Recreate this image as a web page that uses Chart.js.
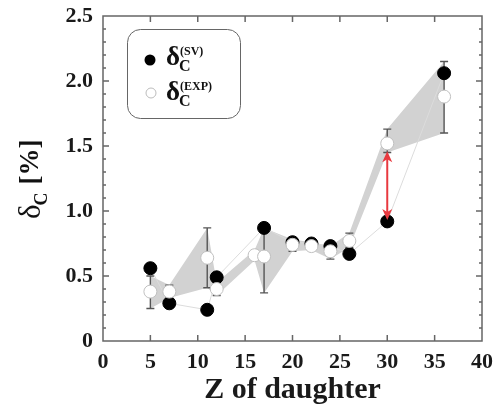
<!DOCTYPE html>
<html>
<head>
<meta charset="utf-8">
<script src="https://cdn.jsdelivr.net/npm/chart.js@4"></script>
<style>
    html, body { margin: 0; padding: 0; background: #fff; }
    #wrap { width: 494px; height: 408px; position: relative; }
</style>
</head>
<body>
<div id="wrap"><canvas id="chart"></canvas></div>
<script>
    // delta_C (SV) values
    const zSV = [5, 7, 11, 12, 17, 20, 22, 24, 26, 30, 36];
    const deltaSV = [0.56, 0.29, 0.24, 0.49, 0.87, 0.76, 0.75, 0.73, 0.67, 0.92, 2.06];

    // delta_C (EXP) values with their error range
    const zEXP = [5, 7, 11, 12, 16, 17, 20, 22, 24, 26, 30, 36];
    const deltaEXP = [0.38, 0.38, 0.64, 0.40, 0.66, 0.65, 0.74, 0.73, 0.69, 0.77, 1.52, 1.88];
    const expHigh = [0.50, 0.43, 0.87, 0.45, 0.70, 0.87, 0.78, 0.76, 0.73, 0.83, 1.63, 2.15];
    const expLow = [0.25, 0.33, 0.41, 0.35, 0.62, 0.37, 0.69, 0.70, 0.63, 0.72, 1.45, 1.60];

    // red arrow at Z = 30
    const arrowZ = 30;
    const arrowFrom = 1.46;
    const arrowTo = 0.93;

    const xTicks = [0, 5, 10, 15, 20, 25, 30, 35, 40];
    const yTicks = [0, 0.5, 1.0, 1.5, 2.0, 2.5];

    const SERIF = '"Liberation Serif", "DejaVu Serif", serif';
    const FRAME = '#666666';
    const toPts = (xs, ys) => xs.map((x, i) => ({ x: x, y: ys[i] }));

    // error bars drawn above the grey band, below the markers
    const errorBarPlugin = {
        id: 'errorBars',
        afterDatasetDraw(chart, args) {
            if (args.index !== 2) return;
            const { ctx, scales: { x, y } } = chart;
            ctx.save();
            ctx.strokeStyle = '#555';
            ctx.lineWidth = 1.4;
            ctx.beginPath();
            zEXP.forEach((z, i) => {
                if (z === 16) return;
                const px = x.getPixelForValue(z);
                const hi = y.getPixelForValue(expHigh[i]);
                const lo = y.getPixelForValue(expLow[i]);
                ctx.moveTo(px, hi); ctx.lineTo(px, lo);
                ctx.moveTo(px - 4, hi); ctx.lineTo(px + 4, hi);
                ctx.moveTo(px - 4, lo); ctx.lineTo(px + 4, lo);
            });
            ctx.stroke();
            ctx.restore();
        }
    };

    function drawDeltaC(ctx, x, y, sizes, sup) {
        // δ, subscript C, optional superscript
        ctx.font = sizes[3] ? 'bold ' + sizes[0] + 'px ' + SERIF : sizes[0] + 'px ' + SERIF;
        ctx.fillText('δ', x, y);
        const w = ctx.measureText('δ').width;
        ctx.font = 'bold ' + sizes[1] + 'px ' + SERIF;
        ctx.fillText('C', x + w - 1, y + sizes[1] * 0.4);
        let end = x + w - 1 + ctx.measureText('C').width;
        if (sup) {
            ctx.font = 'bold ' + sizes[2] + 'px ' + SERIF;
            ctx.fillText(sup, x + w, y - sizes[0] * 0.36);
            end = Math.max(end, x + w + ctx.measureText(sup).width);
        }
        return end;
    }

    const annotPlugin = {
        id: 'annot',
        afterDraw(chart) {
            const ctx = chart.ctx;
            const xs = chart.scales.x;
            const ys = chart.scales.y;
            ctx.save();

            // red double arrow
            const ax = xs.getPixelForValue(arrowZ);
            const y1 = ys.getPixelForValue(arrowFrom);
            const y2 = ys.getPixelForValue(arrowTo);
            ctx.strokeStyle = '#e8393f';
            ctx.fillStyle = '#e8393f';
            ctx.lineWidth = 2;
            ctx.beginPath();
            ctx.moveTo(ax, y1 + 6); ctx.lineTo(ax, y2 - 6);
            ctx.stroke();
            [[y1, 1], [y2, -1]].forEach(([ty, d]) => {
                ctx.beginPath();
                ctx.moveTo(ax, ty);
                ctx.lineTo(ax - 5, ty + d * 11);
                ctx.lineTo(ax, ty + d * 8);
                ctx.lineTo(ax + 5, ty + d * 11);
                ctx.closePath();
                ctx.fill();
            });

            // frame and inward ticks on all four sides
            const L = xs.getPixelForValue(0);
            const R = xs.getPixelForValue(40);
            const T = ys.getPixelForValue(2.5);
            const B = ys.getPixelForValue(0);
            ctx.strokeStyle = FRAME;
            ctx.lineWidth = 1.5;
            ctx.beginPath();
            ctx.rect(L, T, R - L, B - T);
            xTicks.forEach(v => {
                const px = xs.getPixelForValue(v);
                ctx.moveTo(px, B); ctx.lineTo(px, B - 6);
                ctx.moveTo(px, T); ctx.lineTo(px, T + 6);
            });
            for (let i = 0; i <= 25; i++) {
                const py = ys.getPixelForValue(i / 10);
                const len = i % 5 === 0 ? 6 : 3;
                ctx.moveTo(L, py); ctx.lineTo(L + len, py);
                ctx.moveTo(R, py); ctx.lineTo(R - len, py);
            }
            ctx.stroke();

            // legend box
            ctx.strokeStyle = '#666';
            ctx.lineWidth = 1;
            ctx.beginPath();
            ctx.roundRect(127.5, 29.5, 113, 89, 13);
            ctx.stroke();
            ctx.beginPath();
            ctx.arc(150, 60, 5.5, 0, Math.PI * 2);
            ctx.fillStyle = '#000';
            ctx.fill();
            ctx.beginPath();
            ctx.arc(151, 93, 5, 0, Math.PI * 2);
            ctx.fillStyle = '#fff';
            ctx.fill();
            ctx.strokeStyle = '#bbb';
            ctx.stroke();
            ctx.fillStyle = '#111';
            ctx.textBaseline = 'alphabetic';
            drawDeltaC(ctx, 166, 65, [27, 16, 12, true], '(SV)');
            drawDeltaC(ctx, 166, 100, [27, 16, 12, true], '(EXP)');

            // y axis title, rotated
            ctx.translate(40, 171);
            ctx.rotate(-Math.PI / 2);
            ctx.fillStyle = '#111';
            const end = drawDeltaC(ctx, -48, 0, [31, 18]);
            ctx.font = 'bold 27px ' + SERIF;
            ctx.fillText('[%]', end + 8, -2);
            ctx.restore();
        }
    };

    new Chart(document.getElementById('chart'), {
        type: 'scatter',
        data: {
            datasets: [
                {
                    label: 'EXP',
                    data: toPts(zEXP, deltaEXP),
                    pointRadius: 6.5,
                    pointBackgroundColor: '#fff',
                    pointBorderColor: '#c0c0c0',
                    pointBorderWidth: 1
                },
                {
                    label: 'SV',
                    data: toPts(zSV, deltaSV),
                    showLine: true,
                    borderColor: '#dcdcdc',
                    borderWidth: 1,
                    pointRadius: 6.5,
                    pointBackgroundColor: '#000',
                    pointBorderColor: '#000'
                },
                {
                    label: 'band high',
                    data: toPts(zEXP, expHigh),
                    showLine: true,
                    borderWidth: 0,
                    pointRadius: 0,
                    fill: '+1',
                    backgroundColor: '#d2d2d2'
                },
                {
                    label: 'band low',
                    data: toPts(zEXP, expLow),
                    showLine: true,
                    borderWidth: 0,
                    pointRadius: 0
                }
            ]
        },
        options: {
            responsive: true,
            maintainAspectRatio: false,
            animation: false,
            layout: { padding: 0 },
            plugins: {
                legend: { display: false },
                tooltip: { enabled: false }
            },
            scales: {
                x: {
                    type: 'linear',
                    min: 0,
                    max: 40,
                    grid: { display: false, drawTicks: false },
                    border: { display: false },
                    afterBuildTicks: s => { s.ticks = xTicks.map(v => ({ value: v })); },
                    afterFit: s => {
                        s.height = 67;
                        s.paddingLeft = 0;
                        s.paddingRight = 12;
                    },
                    ticks: {
                        padding: 8,
                        color: '#1a1a1a',
                        font: { family: SERIF, size: 22, weight: 'bold' }
                    },
                    title: {
                        display: true,
                        text: 'Z of daughter',
                        color: '#1a1a1a',
                        padding: 0,
                        font: { family: SERIF, size: 30, weight: 'bold' }
                    }
                },
                y: {
                    min: 0,
                    max: 2.5,
                    grid: { display: false, drawTicks: false },
                    border: { display: false },
                    afterBuildTicks: s => { s.ticks = yTicks.map(v => ({ value: v })); },
                    afterFit: s => {
                        s.width = 103;
                        s.paddingTop = 16;
                        s.paddingBottom = 0;
                    },
                    ticks: {
                        padding: 10,
                        color: '#1a1a1a',
                        font: { family: SERIF, size: 22, weight: 'bold' },
                        callback: v => v === 0 ? '0' : v.toFixed(1)
                    }
                }
            }
        },
        plugins: [errorBarPlugin, annotPlugin]
    });
</script>
</body>
</html>
